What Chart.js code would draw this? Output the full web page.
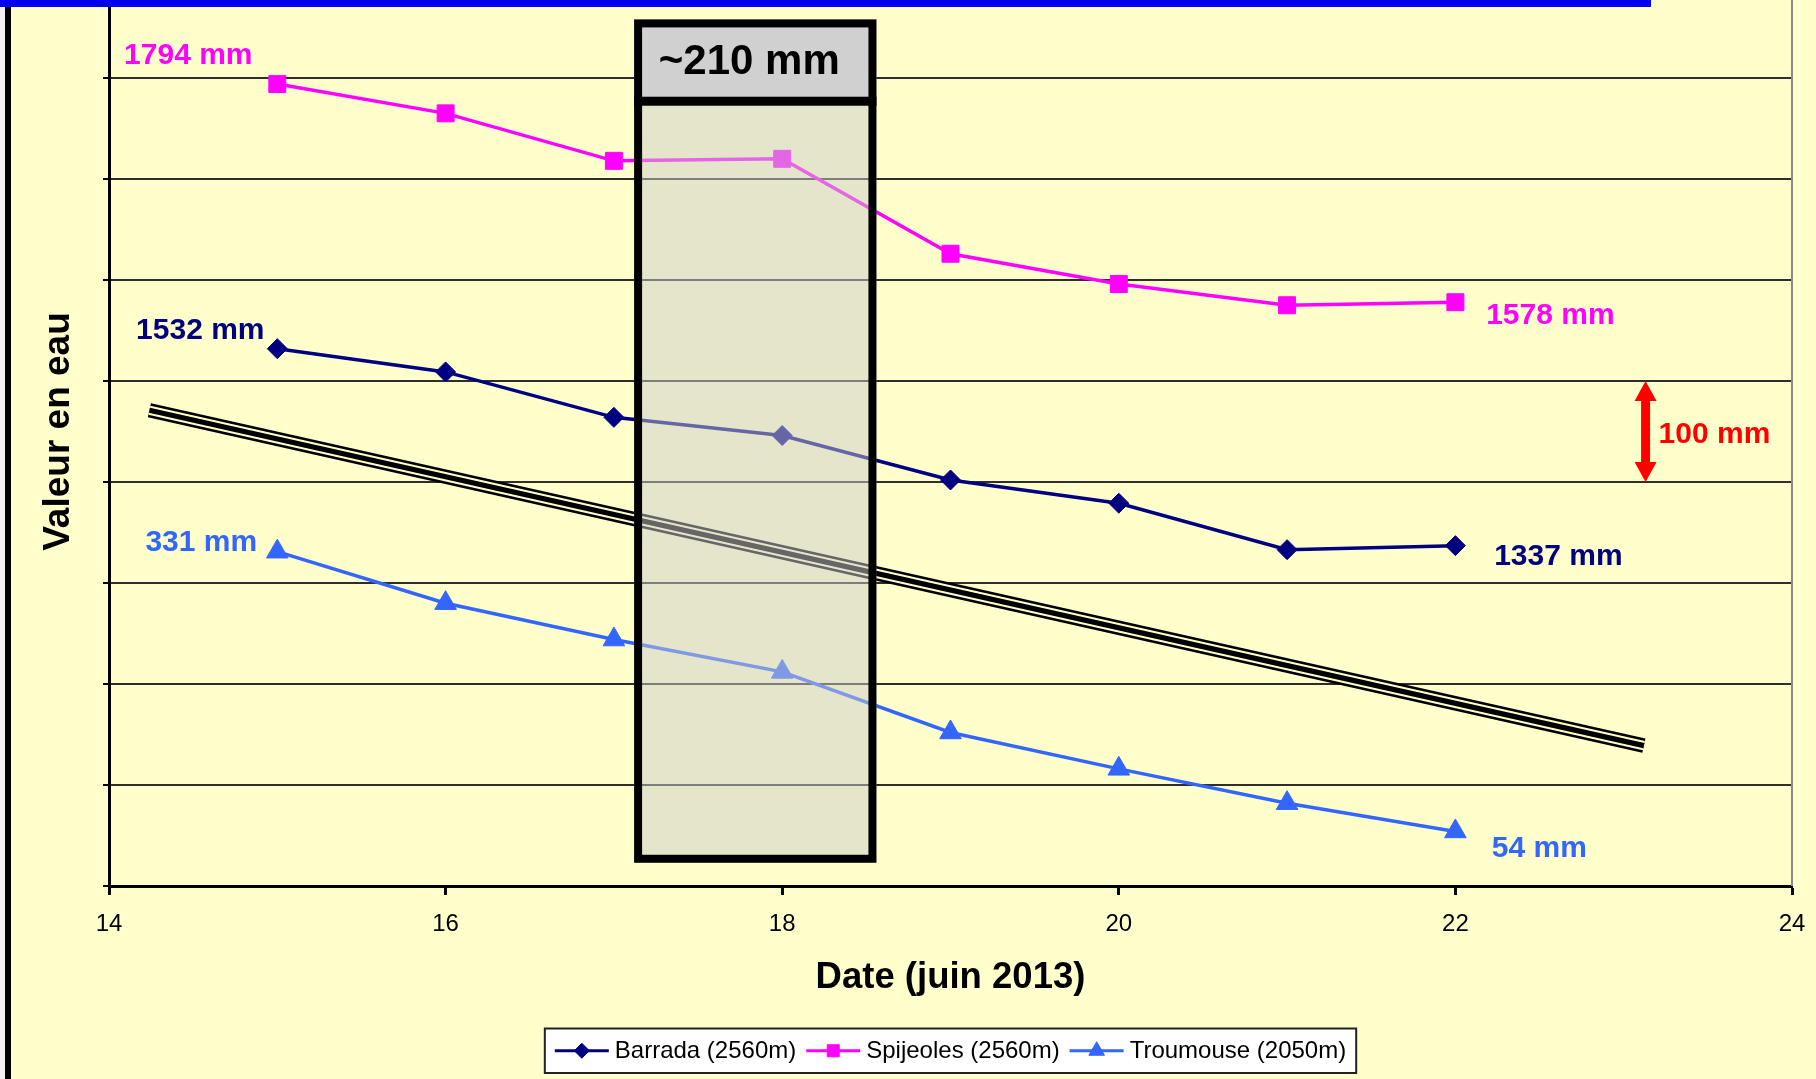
<!DOCTYPE html>
<html>
<head>
<meta charset="utf-8">
<script src="https://cdn.jsdelivr.net/npm/chart.js@4.4.1/dist/chart.umd.min.js"></script>
<style>
  html, body { margin: 0; padding: 0; background: #FFFFCC; overflow: hidden; }
  #wrap { position: relative; width: 1816px; height: 1079px; overflow: hidden; }
  #c { position: absolute; left: 0; top: -23px; }
  .edge { position: absolute; left: 0; top: 0; width: 5px; height: 1079px; background: #F2F2EE; }
  .rule { position: absolute; left: 5px; top: 0; width: 6px; height: 1079px; background: #000; }
  .bar  { position: absolute; left: 0; top: 0; width: 1651px; height: 7px; background: #0000EE; }
</style>
</head>
<body>
<div id="wrap">
  <canvas id="c" width="1816" height="1102"></canvas>
  <div class="edge"></div>
  <div class="rule"></div>
  <div class="bar"></div>
</div>
<script>
// Snow water equivalent, June 2013 (mm)
const days      = [15, 16, 17, 18, 19, 20, 21, 22];
const barrada   = [1532, 1509, 1464, 1446, 1402, 1379, 1333, 1337];
const spijeoles = [1794, 1765, 1718, 1720, 1626, 1596, 1575, 1578];
const troumouse = [331, 280, 244, 212, 152, 116, 82, 54];
const seriesNames = ['Barrada (2560m)', 'Spijeoles (2560m)', 'Troumouse (2050m)'];
const xTickValues = [14, 16, 18, 20, 22, 24];

// Trend guide line (date, mm)
const trendDays   = [14.24, 23.12];
const trendValues = [1471, 1139];

// Highlighted period (date range, mm range, header split)
const boxDays   = [17.12, 18.56];
const boxValues = [1023, 1858];
const boxHeaderValue = 1777;
const boxText = '~210 mm';

// 100 mm scale arrow
const arrowDay = 23.13;
const arrowValues = [1400, 1500];

const FONT = '"Liberation Sans", Arial, Helvetica, sans-serif';
const COLORS = { barrada: '#000080', spijeoles: '#FF00FF', troumouse: '#3366FF' };

const toPoints = (xs, ys) => xs.map((d, i) => ({ x: d, y: ys[i] }));

const seriesDataset = (label, values, color, style, radius, axis) => ({
  label, data: toPoints(days, values), yAxisID: axis,
  borderColor: color, backgroundColor: color,
  borderWidth: 3.5, tension: 0,
  pointStyle: style, pointRadius: radius, pointBorderWidth: 1,
  pointBackgroundColor: color, pointBorderColor: color, order: 0
});

const trendLayer = (width, color, order) => ({
  label: '', data: toPoints(trendDays, trendValues), yAxisID: 'y',
  borderColor: color, borderWidth: width, pointRadius: 0, tension: 0,
  borderCapStyle: 'butt', order
});

const datasets = [
  seriesDataset(seriesNames[0], barrada,   COLORS.barrada,   'rectRot',  10,   'y'),
  seriesDataset(seriesNames[1], spijeoles, COLORS.spijeoles, 'rect',     12,   'y'),
  seriesDataset(seriesNames[2], troumouse, COLORS.troumouse, 'triangle', 12.5, 'y2'),
  trendLayer(14.5, '#000000', 12),
  trendLayer(9.3,  '#FFFFCC', 11),
  trendLayer(5.2,  '#000000', 10)
];

const legendMarkers = [
  { ds: 0, style: 'rectRot',  radius: 7.5 },
  { ds: 1, style: 'rect',     radius: 8.5 },
  { ds: 2, style: 'triangle', radius: 9 }
];

// first / last value labels, offset from their point (px)
const endLabels = [
  { ds: 1, i: 0, dx: -89, dy: -28 },
  { ds: 0, i: 0, dx: -77, dy: -18 },
  { ds: 2, i: 0, dx: -76, dy: -9 },
  { ds: 1, i: 7, dx: 95,  dy: 14 },
  { ds: 0, i: 7, dx: 103, dy: 11 },
  { ds: 2, i: 7, dx: 84,  dy: 17 }
];

const decorations = {
  id: 'decorations',
  beforeDatasetsDraw(chart) {
    const { ctx, chartArea: a } = chart;
    ctx.save();
    ctx.strokeStyle = '#8A8A8A';
    ctx.lineWidth = 2;
    ctx.beginPath();
    ctx.moveTo(a.right, a.top);
    ctx.lineTo(a.right, a.bottom);
    ctx.stroke();
    ctx.restore();
  },
  afterDatasetsDraw(chart) {
    const { ctx } = chart;
    const xs = chart.scales.x, ys = chart.scales.y;
    ctx.save();

    // highlighted period box
    const L = xs.getPixelForValue(boxDays[0]);
    const R = xs.getPixelForValue(boxDays[1]);
    const T = ys.getPixelForValue(boxValues[1]);
    const B = ys.getPixelForValue(boxValues[0]);
    const H = ys.getPixelForValue(boxHeaderValue);
    const bw = 8;
    ctx.fillStyle = 'rgba(204,204,204,0.5)';
    ctx.fillRect(L, H, R - L, B - H);
    ctx.fillStyle = '#D0D0D0';
    ctx.fillRect(L, T, R - L, H - T);
    ctx.fillStyle = '#000';
    ctx.fillRect(L, H - 4.5, R - L, 9);
    ctx.strokeStyle = '#000';
    ctx.lineWidth = bw;
    ctx.strokeRect(L + bw / 2, T + bw / 2, R - L - bw, B - T - bw);
    ctx.font = `bold 42px ${FONT}`;
    ctx.textAlign = 'center';
    ctx.textBaseline = 'middle';
    ctx.fillStyle = '#000';
    ctx.fillText(boxText, (L + R) / 2 - 6, (T + bw + H - 4.5) / 2);

    // 100 mm arrow
    const ax = xs.getPixelForValue(arrowDay);
    const aTop = ys.getPixelForValue(arrowValues[1]);
    const aBot = ys.getPixelForValue(arrowValues[0]);
    const headH = 20, headW = 11, shaft = 4.5;
    ctx.fillStyle = '#FF0000';
    ctx.fillRect(ax - shaft, aTop + headH - 1, shaft * 2, aBot - aTop - 2 * headH + 2);
    ctx.beginPath();
    ctx.moveTo(ax, aTop);
    ctx.lineTo(ax + headW, aTop + headH);
    ctx.lineTo(ax - headW, aTop + headH);
    ctx.closePath();
    ctx.fill();
    ctx.beginPath();
    ctx.moveTo(ax, aBot);
    ctx.lineTo(ax + headW, aBot - headH);
    ctx.lineTo(ax - headW, aBot - headH);
    ctx.closePath();
    ctx.fill();
    ctx.font = `bold 30px ${FONT}`;
    ctx.textAlign = 'left';
    ctx.fillText(`${arrowValues[1] - arrowValues[0]} mm`, ax + 13, (aTop + aBot) / 2 + 3);

    // first / last values
    ctx.textAlign = 'center';
    endLabels.forEach(lb => {
      const ds = chart.data.datasets[lb.ds];
      const el = chart.getDatasetMeta(lb.ds).data[lb.i];
      ctx.fillStyle = ds.borderColor;
      ctx.fillText(`${ds.data[lb.i].y} mm`, el.x + lb.dx, el.y + lb.dy);
    });
    ctx.restore();
  },
  afterDraw(chart) {
    const { ctx, chartArea: a } = chart;
    ctx.save();
    ctx.font = `24px ${FONT}`;
    const seg = 54, gap = 6, sep = 10, pad = 10, h = 44.5;
    const labels = legendMarkers.map(m => chart.data.datasets[m.ds].label);
    const widths = labels.map(t => ctx.measureText(t).width);
    const total = pad * 2 + legendMarkers.length * (seg + gap) +
      widths.reduce((s, w) => s + w, 0) + sep * (legendMarkers.length - 1);
    const left = (a.left + a.right) / 2 - total / 2;
    const top = a.bottom + 142.5;
    ctx.fillStyle = '#FFFFFF';
    ctx.fillRect(left, top, total, h);
    ctx.strokeStyle = '#222';
    ctx.lineWidth = 2;
    ctx.strokeRect(left, top, total, h);
    let x = left + pad;
    const y = top + h / 2;
    legendMarkers.forEach((m, i) => {
      const ds = chart.data.datasets[m.ds];
      ctx.strokeStyle = ds.borderColor;
      ctx.lineWidth = 3;
      ctx.beginPath();
      ctx.moveTo(x, y);
      ctx.lineTo(x + seg, y);
      ctx.stroke();
      ctx.fillStyle = ds.borderColor;
      ctx.lineWidth = 1;
      Chart.helpers.drawPoint(ctx, { pointStyle: m.style, radius: m.radius, borderWidth: 1, rotation: 0 }, x + seg / 2, y);
      x += seg + gap;
      ctx.fillStyle = '#000';
      ctx.textAlign = 'left';
      ctx.textBaseline = 'middle';
      ctx.fillText(labels[i], x, y + 1);
      x += widths[i] + sep;
    });
    ctx.restore();
  }
};

new Chart(document.getElementById('c'), {
  type: 'line',
  data: { datasets },
  plugins: [decorations],
  options: {
    responsive: false,
    animation: false,
    events: [],
    devicePixelRatio: 1,
    layout: { padding: { top: 0, right: 24, bottom: 0, left: 0 }, autoPadding: false },
    plugins: { legend: { display: false }, tooltip: { enabled: false } },
    scales: {
      x: {
        type: 'linear', min: 14, max: 24,
        afterBuildTicks: s => { s.ticks = xTickValues.map(v => ({ value: v })); },
        ticks: { font: { family: FONT, size: 24, lineHeight: 1.78 }, color: '#000', padding: 8, maxRotation: 0, autoSkip: false },
        grid: { drawOnChartArea: false, drawTicks: true, tickLength: 9, tickWidth: 3, tickColor: '#000' },
        border: { display: true, color: '#000', width: 3 },
        title: { display: true, text: 'Date (juin 2013)', color: '#000',
                 font: { family: FONT, size: 36.5, weight: 'bold' }, padding: { top: 0, bottom: 79 } },
        afterFit: s => { s.height = 193; }
      },
      y: {
        type: 'linear', position: 'left', min: 1000, max: 1900,
        ticks: { display: false, stepSize: 100 },
        grid: { color: '#2E2E2E', lineWidth: 2, drawTicks: true, tickLength: 6, tickWidth: 2, tickColor: '#000' },
        border: { display: true, color: '#000', width: 3 },
        title: { display: true, text: 'Valeur en eau', color: '#000',
                 font: { family: FONT, size: 37, weight: 'bold' }, padding: { top: 37, bottom: 0 } },
        afterFit: s => { s.width = 109; }
      },
      y2: { type: 'linear', display: false, min: 0, max: 900 }
    }
  }
});
</script>
</body>
</html>
